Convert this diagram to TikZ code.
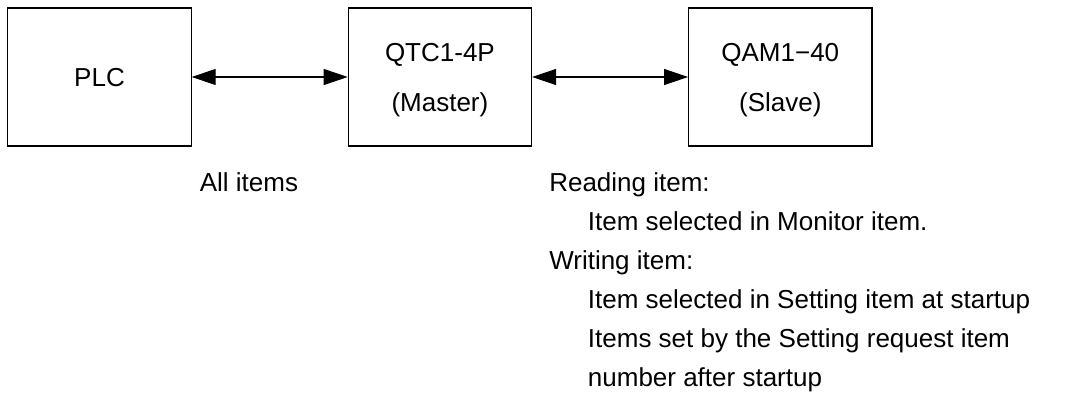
\documentclass[tikz,border=0pt]{standalone}
\usepackage{fontspec}
\setmainfont{Liberation Sans}
\usepackage{tikz}
\usetikzlibrary{arrows.meta, positioning}
\tikzset{
  unit/.style={rectangle, minimum width=137.5pt, minimum height=103.5pt,
    draw=black, line width=0.8pt, fill=white, align=center, inner sep=0pt,
    text depth=0pt, font=\fontsize{19.5}{37.5}\selectfont},
  note/.style={inner sep=0pt, align=left, font=\fontsize{19.5}{29.25}\selectfont},
  link/.style={{Triangle[length=18pt,width=12pt]}-{Triangle[length=18pt,width=12pt]}, line width=0.8pt}
}

\begin{document}
\begin{tikzpicture}[x=0.75pt, y=-0.75pt, node distance=117pt]
\useasboundingbox (0,0) rectangle (1067,396);
\node (plc)    [unit] at (99.5,77)             {PLC};
\node (master) [unit, right=of plc]            {QTC1-4P\\(Master)};
\node (slave)  [unit, right=of master]         {QAM1−40\\(Slave)};

\draw [link] (plc)    -- (master);
\draw [link] (master) -- (slave);

\node (all)  [note, anchor=base]      at (249,191) {All items};
\node (list) [note, anchor=north west] at (549,172)
  {Reading item:\\
   \hspace*{29pt}Item selected in Monitor item.\\
   Writing item:\\
   \hspace*{29pt}Item selected in Setting item at startup\\
   \hspace*{29pt}Items set by the Setting request item\\
   \hspace*{29pt}number after startup};
\end{tikzpicture}
\end{document}
